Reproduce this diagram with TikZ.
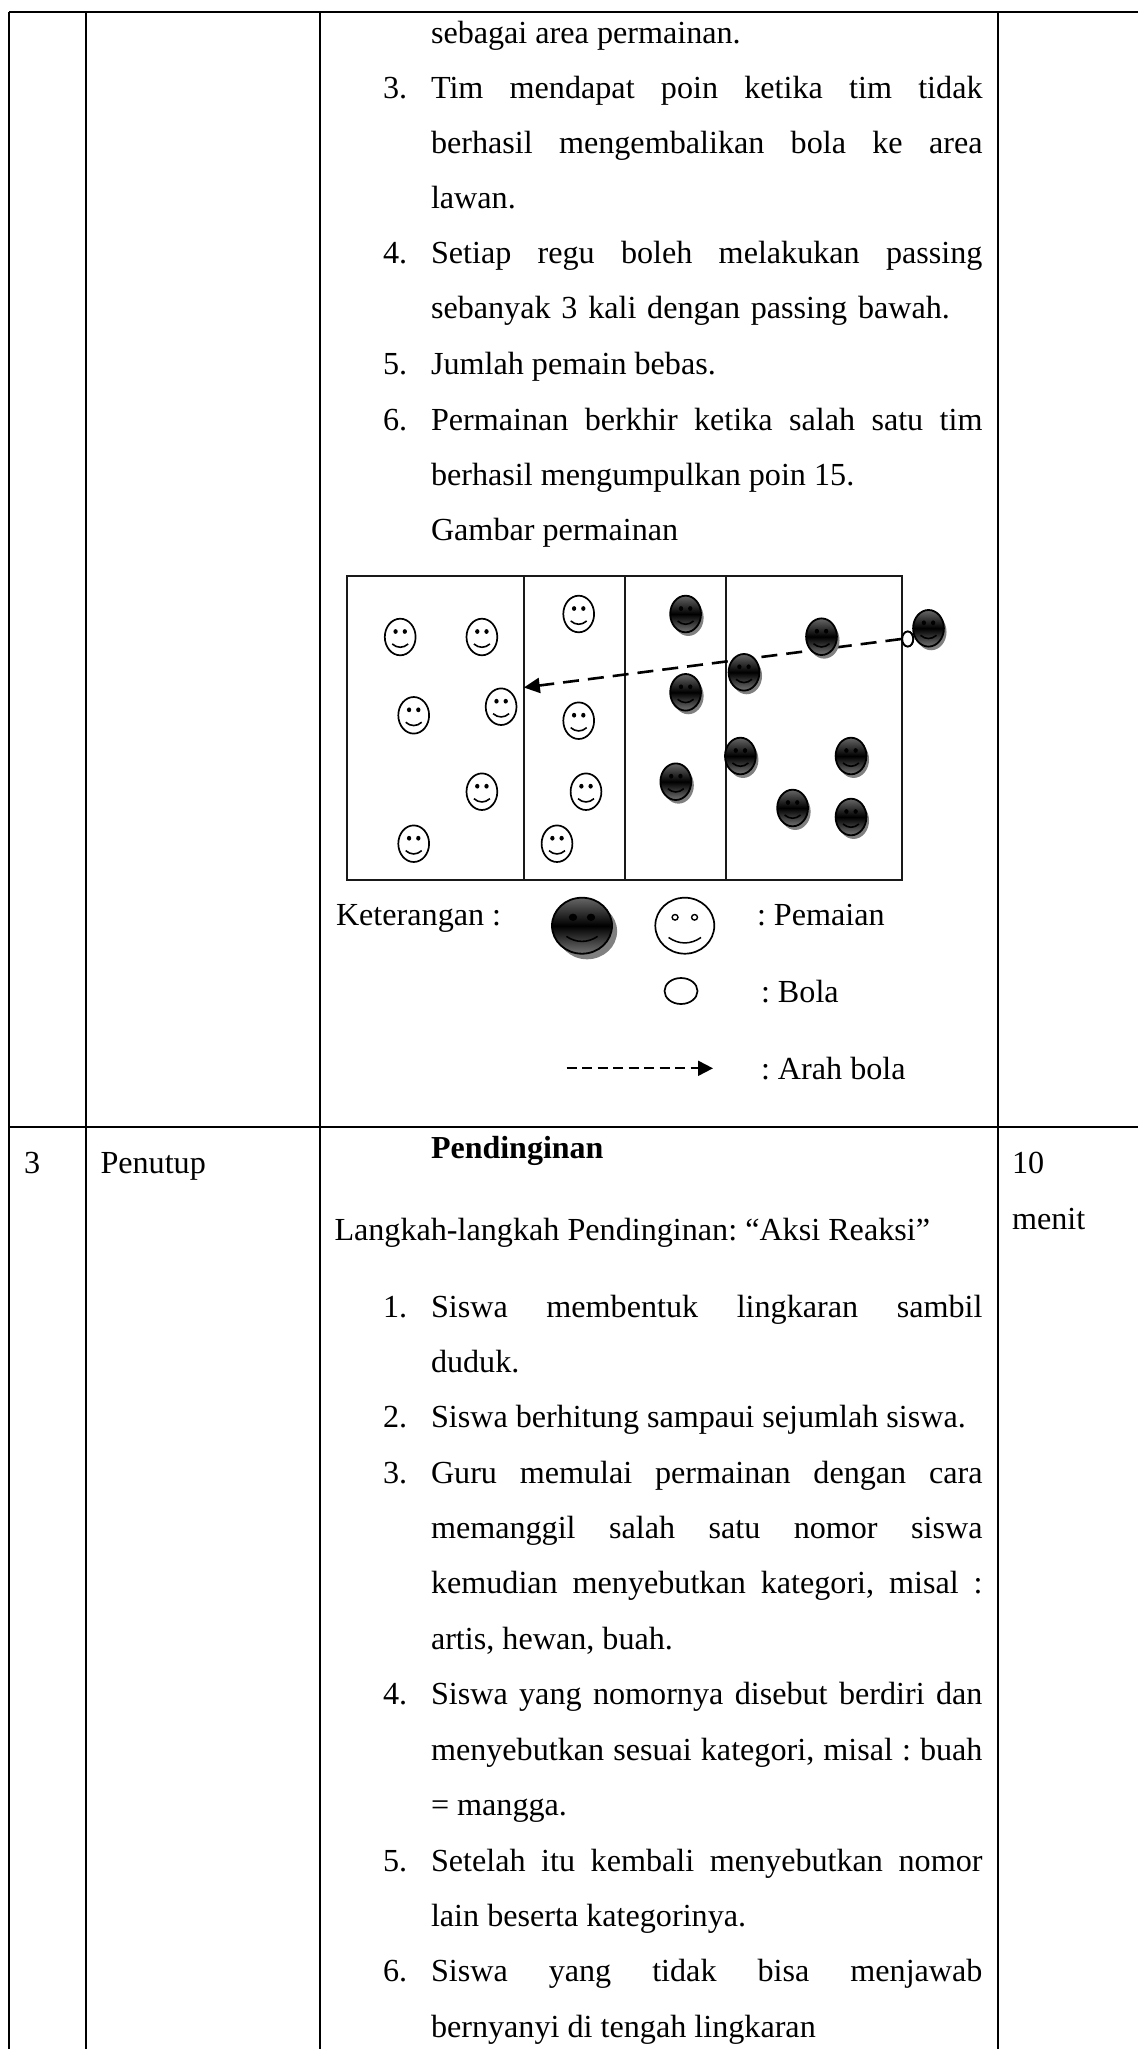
\documentclass[tikz,border=0pt]{standalone}
\usepackage{fontspec}
\setmainfont{Liberation Serif}
\usetikzlibrary{shapes.geometric,arrows.meta}
\tikzset{
  txt/.style={anchor=base west,inner sep=0pt,outer sep=0pt,font=\fontsize{32.15}{38}\selectfont\frenchspacing},
  tbl/.style={line width=2pt,black},
  fieldline/.style={line width=2pt,black!90},
  ballstyle/.style={ellipse,draw=black,line width=1.8pt,fill=white,inner sep=0pt},
  dashline/.style={line width=2.6pt,dash pattern=on 16pt off 9pt}
}
\newcommand{\jline}[3]{\node[txt] (#1) at (431,#2) {\makebox[551.5pt][s]{#3}};}
\newcommand{\pline}[3]{\node[txt] (#1) at (431,#2) {#3};}
\newcommand{\numb}[3]{\node[txt] (#1) at (383,#2) {#3};}
\newcommand{\whiteface}[4]{%
  \begin{scope}[shift={(#1,#2)},xscale=#3,yscale=#4]
    \draw[line width=1.7pt,fill=white] (0,0) ellipse [x radius=1,y radius=1];
    \fill (-0.3,-0.3) ellipse [x radius=0.14,y radius=0.13];
    \fill (0.3,-0.3) ellipse [x radius=0.14,y radius=0.13];
    \draw[line width=1.6pt] (-0.52,0.38) .. controls (-0.2,0.62) and (0.2,0.62) .. (0.52,0.38);
  \end{scope}}
\newcommand{\darkface}[4]{%
  \begin{scope}[shift={(#1,#2)},xscale=#3,yscale=#4]
    \fill[black!50] (0.17,0.2) ellipse [x radius=1,y radius=1];
    \shade[top color=black!60,bottom color=black!55,middle color=black] (0,0) ellipse [x radius=1,y radius=1];
    \draw[line width=1.8pt] (0,0) ellipse [x radius=1,y radius=1];
    \fill (-0.3,-0.3) ellipse [x radius=0.14,y radius=0.13];
    \fill (0.3,-0.3) ellipse [x radius=0.14,y radius=0.13];
    \draw[line width=1.6pt] (-0.52,0.38) .. controls (-0.2,0.62) and (0.2,0.62) .. (0.52,0.38);
  \end{scope}}
\begin{document}
\begin{tikzpicture}[x=1pt,y=-1pt]
\useasboundingbox (0,0) rectangle (1138,2049);
% table
\draw[tbl] (9,12) -- (1138,12);
\draw[tbl] (9,1127) -- (1138,1127);
\foreach \xx in {9,86,320,998} \draw[tbl] (\xx,12) -- (\xx,2049);
% text above
\pline{a0}{43.3}{sebagai area permainan.}
\numb{n3}{98.2}{3.}
\jline{a1}{98.2}{Tim mendapat poin ketika tim tidak}
\jline{a2}{153.4}{berhasil mengembalikan bola ke area}
\pline{a3}{208.6}{lawan.}
\numb{n4}{263.8}{4.}
\jline{a4}{263.8}{Setiap regu boleh melakukan passing}
\node[txt] (a5) at (431,319) {\makebox[519pt][s]{sebanyak 3 kali dengan passing bawah.}};
\numb{n5}{374.4}{5.}
\pline{a6}{374.4}{Jumlah pemain bebas.}
\numb{n6}{430}{6.}
\jline{a7}{430}{Permainan berkhir ketika salah satu tim}
\pline{a8}{485.4}{berhasil mengumpulkan poin 15.}
\pline{a9}{540.8}{Gambar permainan}
% field
\draw[fieldline] (347,576) rectangle (901.5,880);
\foreach \xx in {523.6,624.6,725.5} \draw[fieldline] (\xx,576) -- (\xx,880);
% arrow
\node[ballstyle,minimum width=11pt,minimum height=15pt] (ball) at (907.7,639) {};
\coordinate (target) at (523.8,687.5);
% faces under the arrow
\foreach \a/\b in {400.2/637,481.9/637,578.7/614,413.7/715.3,501.1/706.7,578.7/720.7,481.9/791.7,586/791.7,413.7/843.7,557/843.7}
  {\whiteface{\a}{\b}{15.4}{18.3}}
\foreach \a/\b in {685.6/614,685.6/692.3,740.4/756,851/756,675.8/781.7,792.6/808,851/817}
  {\darkface{\a}{\b}{15.4}{18.3}}
\draw[dashline,-{Triangle[length=16pt,width=15pt]}] (ball.west) -- (target);
\darkface{821.5}{636.7}{15.4}{18.3}
\darkface{744}{672.3}{15.4}{18.3}
\darkface{928.5}{628.3}{15.4}{18.3}
\node[ballstyle,minimum width=11pt,minimum height=15pt] at (ball) {};
% legend
\node[txt] (ket) at (336,925) {Keterangan :};
\darkface{582}{925.7}{30}{28}
\begin{scope}[shift={(684.8,925.7)},xscale=29.5,yscale=28]
  \draw[line width=1.7pt] (0,0) ellipse [x radius=1,y radius=1];
  \draw[line width=1.4pt] (-0.33,-0.3) ellipse [x radius=0.1,y radius=0.1];
  \draw[line width=1.4pt] (0.33,-0.3) ellipse [x radius=0.1,y radius=0.1];
  \draw[line width=1.5pt] (-0.55,0.42) .. controls (-0.2,0.68) and (0.2,0.68) .. (0.55,0.42);
\end{scope}
\node[txt] (pem) at (757,925) {: Pemaian};
\node[ballstyle,line width=1.7pt,minimum width=33pt,minimum height=26pt] (legball) at (681,991) {};
\node[txt] (bol) at (761,1002) {: Bola};
\coordinate (la) at (566.5,1068.3);
\coordinate (lb) at (713,1068.3);
\draw[line width=2pt,dash pattern=on 10pt off 5.5pt,-{Triangle[length=15pt,width=15pt]}] (la) -- (lb);
\node[txt] (arh) at (761,1079) {: Arah bola};
% row 3
\node[txt] (c3) at (24,1173) {3};
\node[txt] (pen) at (100.5,1173) {Penutup};
\node[txt,font=\fontsize{32}{38}\selectfont\bfseries] (pd) at (431,1158) {Pendinginan};
\node[txt] (m1) at (1012,1173) {10};
\node[txt] (m2) at (1012,1229) {menit};
\node[txt] (lk) at (334.5,1240) {Langkah-langkah Pendinginan: “Aksi Reaksi”};
\numb{b1}{1317}{1.}
\jline{b2}{1317}{Siswa membentuk lingkaran sambil}
\pline{b3}{1372}{duduk.}
\numb{b4}{1427}{2.}
\pline{b5}{1427}{Siswa berhitung sampaui sejumlah siswa.}
\numb{b6}{1483}{3.}
\jline{b7}{1483}{Guru memulai permainan dengan cara}
\jline{b8}{1538}{memanggil salah satu nomor siswa}
\jline{b9}{1593.6}{kemudian menyebutkan kategori, misal :}
\pline{b10}{1649}{artis, hewan, buah.}
\numb{b11}{1704.4}{4.}
\jline{b12}{1704.4}{Siswa yang nomornya disebut berdiri dan}
\jline{b13}{1760}{menyebutkan sesuai kategori, misal : buah}
\pline{b14}{1815}{= mangga.}
\numb{b15}{1871}{5.}
\jline{b16}{1871}{Setelah itu kembali menyebutkan nomor}
\pline{b17}{1926}{lain beserta kategorinya.}
\numb{b18}{1981.5}{6.}
\jline{b19}{1981.5}{Siswa yang tidak bisa menjawab}
\pline{b20}{2037}{bernyanyi di tengah lingkaran}
\end{tikzpicture}
\end{document}
